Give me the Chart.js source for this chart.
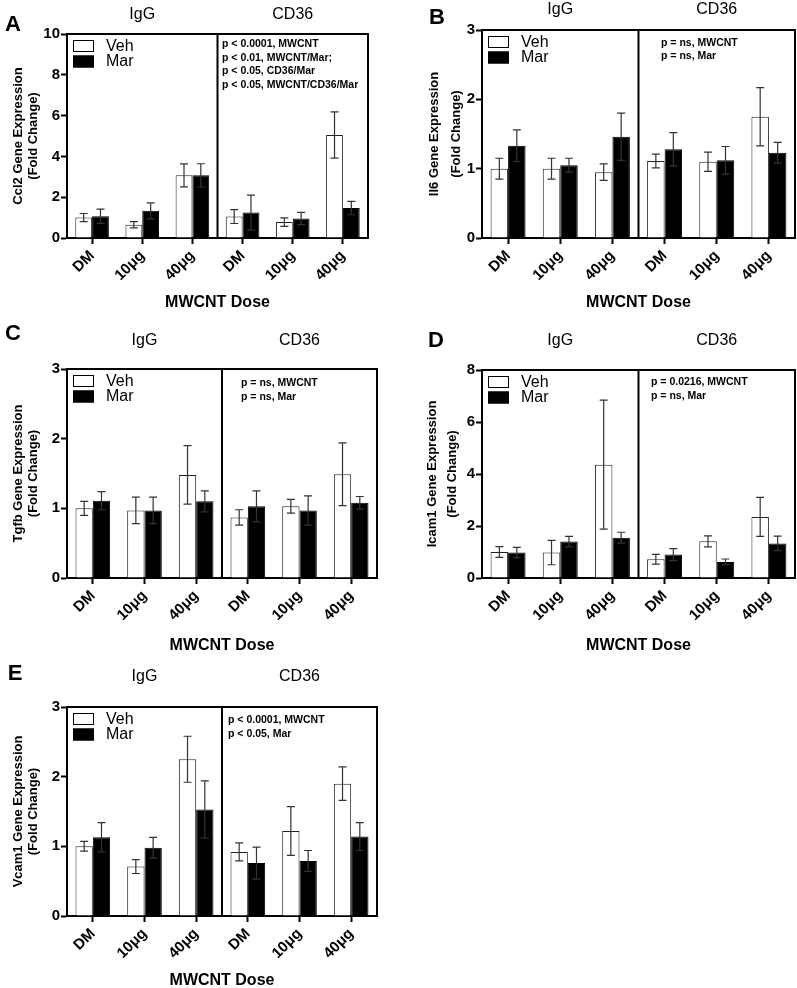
<!DOCTYPE html>
<html>
<head>
<meta charset="utf-8">
<script src="https://cdn.jsdelivr.net/npm/chart.js@4.4.1/dist/chart.umd.min.js"></script>
<style>
html, body { margin: 0; padding: 0; background: #fff; overflow: hidden; }
body { width: 797px; height: 988px; position: relative; }
canvas { position: absolute; }
</style>
</head>
<body>
<canvas id="panelA"></canvas>
<canvas id="panelB"></canvas>
<canvas id="panelC"></canvas>
<canvas id="panelD"></canvas>
<canvas id="panelE"></canvas>
<script>
// x categories (IgG half, then CD36 half)
var doses = ['DM', '10μg', '40μg', 'DM', '10μg', '40μg'];
var groups = ['IgG', 'CD36'];
var seriesNames = ['Veh', 'Mar'];

// Ccl2
var ccl2Veh = [1.0, 0.65, 3.07, 1.05, 0.78, 5.05];
var ccl2VehErr = [0.2, 0.15, 0.56, 0.34, 0.21, 1.13];
var ccl2Mar = [1.07, 1.33, 3.07, 1.25, 0.96, 1.47];
var ccl2MarErr = [0.35, 0.39, 0.57, 0.85, 0.3, 0.33];
var ccl2Stats = ['p < 0.0001, MWCNT', 'p < 0.01, MWCNT/Mar;', 'p < 0.05, CD36/Mar', 'p < 0.05, MWCNT/CD36/Mar'];

// Il6
var il6Veh = [1.0, 1.0, 0.95, 1.11, 1.1, 1.75];
var il6VehErr = [0.15, 0.15, 0.12, 0.1, 0.14, 0.42];
var il6Mar = [1.33, 1.05, 1.46, 1.28, 1.12, 1.23];
var il6MarErr = [0.23, 0.1, 0.34, 0.24, 0.2, 0.15];
var il6Stats = ['p = ns, MWCNT', 'p = ns, Mar'];

// Tgfb
var tgfbVeh = [1.0, 0.97, 1.48, 0.87, 1.03, 1.49];
var tgfbVehErr = [0.1, 0.19, 0.42, 0.11, 0.1, 0.45];
var tgfbMar = [1.11, 0.97, 1.1, 1.03, 0.97, 1.08];
var tgfbMarErr = [0.13, 0.19, 0.15, 0.22, 0.21, 0.09];
var tgfbStats = ['p = ns, MWCNT', 'p = ns, Mar'];

// Icam1
var icam1Veh = [1.0, 0.98, 4.36, 0.72, 1.41, 2.35];
var icam1VehErr = [0.21, 0.47, 2.48, 0.19, 0.21, 0.75];
var icam1Mar = [0.98, 1.4, 1.55, 0.9, 0.62, 1.33];
var icam1MarErr = [0.2, 0.2, 0.21, 0.23, 0.11, 0.28];
var icam1Stats = ['p = 0.0216, MWCNT', 'p = ns, Mar'];

// Vcam1
var vcam1Veh = [1.0, 0.71, 2.25, 0.92, 1.22, 1.9];
var vcam1VehErr = [0.07, 0.1, 0.33, 0.13, 0.35, 0.24];
var vcam1Mar = [1.13, 0.98, 1.53, 0.76, 0.79, 1.14];
var vcam1MarErr = [0.21, 0.15, 0.41, 0.23, 0.15, 0.2];
var vcam1Stats = ['p < 0.0001, MWCNT', 'p < 0.05, Mar'];

var FONT = "'Liberation Sans', Arial, Helvetica, sans-serif";

// layout of each panel on the page
var panels = [
    { id: 'panelA', letter: 'A', gene: 'Ccl2', veh: ccl2Veh, vehErr: ccl2VehErr, mar: ccl2Mar, marErr: ccl2MarErr, stats: ccl2Stats,
      yMax: 10, yStep: 2, box: [0, 0, 400, 312], area: [67, 34, 368, 238], yTitleLh: 15, yTitlePad: 10.5,
      letterPos: [13, 25], titleY: 19, statsPos: [222, 47], statsLh: 13.5 },
    { id: 'panelB', letter: 'B', gene: 'Il6', veh: il6Veh, vehErr: il6VehErr, mar: il6Mar, marErr: il6MarErr, stats: il6Stats,
      yMax: 3, yStep: 1, box: [400, 0, 397, 312], area: [482, 30, 795, 238], yTitleLh: 22, yTitlePad: 23,
      letterPos: [437, 18], titleY: 14, statsPos: [661, 46], statsLh: 13 },
    { id: 'panelC', letter: 'C', gene: 'Tgfb', veh: tgfbVeh, vehErr: tgfbVehErr, mar: tgfbMar, marErr: tgfbMarErr, stats: tgfbStats,
      yMax: 3, yStep: 1, box: [0, 320, 400, 335], area: [67, 369, 377, 578], yTitleLh: 15, yTitlePad: 10.5,
      letterPos: [13, 334], titleY: 345, statsPos: [241, 386], statsLh: 13.5 },
    { id: 'panelD', letter: 'D', gene: 'Icam1', veh: icam1Veh, vehErr: icam1VehErr, mar: icam1Mar, marErr: icam1MarErr, stats: icam1Stats,
      yMax: 8, yStep: 2, box: [400, 320, 397, 335], area: [482, 370, 795, 578], yTitleLh: 20, yTitlePad: 22.5,
      letterPos: [436, 341], titleY: 345, statsPos: [651, 385], statsLh: 14 },
    { id: 'panelE', letter: 'E', gene: 'Vcam1', veh: vcam1Veh, vehErr: vcam1VehErr, mar: vcam1Mar, marErr: vcam1MarErr, stats: vcam1Stats,
      yMax: 3, yStep: 1, box: [0, 650, 400, 340], area: [67, 707, 377, 916], yTitleLh: 15, yTitlePad: 10.5,
      letterPos: [15, 674], titleY: 681, statsPos: [228, 723], statsLh: 13.5 }
];

function makeDecor(p) {
    var ox = p.box[0], oy = p.box[1];
    return {
        id: 'decor' + p.letter,
        afterDatasetsDraw: function (chart) {
            var ctx = chart.ctx;
            var area = chart.chartArea;
            var xs = chart.scales.x, ys = chart.scales.y;

            // error bars
            ctx.save();
            ctx.strokeStyle = '#333';
            ctx.lineWidth = 1.2;
            chart.data.datasets.forEach(function (ds, di) {
                var meta = chart.getDatasetMeta(di);
                meta.data.forEach(function (bar, i) {
                    var m = ds.data[i], e = ds.errors[i];
                    var yTop = ys.getPixelForValue(m + e);
                    var yBot = ys.getPixelForValue(m - e);
                    ctx.beginPath();
                    ctx.moveTo(bar.x, yTop);
                    ctx.lineTo(bar.x, yBot);
                    ctx.moveTo(bar.x - 4, yTop);
                    ctx.lineTo(bar.x + 4, yTop);
                    ctx.moveTo(bar.x - 4, yBot);
                    ctx.lineTo(bar.x + 4, yBot);
                    ctx.stroke();
                });
            });

            // frame + divider between IgG and CD36
            var mid = (xs.getPixelForValue(2) + xs.getPixelForValue(3)) / 2;
            ctx.strokeStyle = '#000';
            ctx.lineWidth = 2;
            ctx.beginPath();
            ctx.moveTo(area.left - 1, area.top);
            ctx.lineTo(area.right, area.top);
            ctx.lineTo(area.right, area.bottom + 1);
            ctx.moveTo(mid, area.top);
            ctx.lineTo(mid, area.bottom);
            ctx.stroke();

            ctx.fillStyle = '#000';
            // group titles
            ctx.font = '16px ' + FONT;
            ctx.textAlign = 'center';
            ctx.textBaseline = 'alphabetic';
            ctx.fillText(groups[0], (area.left + mid) / 2, p.titleY - oy);
            ctx.fillText(groups[1], (mid + area.right) / 2, p.titleY - oy);

            // panel letter
            ctx.font = 'bold 22px ' + FONT;
            ctx.textBaseline = 'middle';
            ctx.fillText(p.letter, p.letterPos[0] - ox, p.letterPos[1] - oy);

            // legend
            var lx = area.left + 6, ly = area.top + 6;
            ctx.font = '16px ' + FONT;
            ctx.textAlign = 'left';
            chart.data.datasets.forEach(function (ds, di) {
                var by = ly + di * 15.5;
                ctx.fillStyle = ds.backgroundColor;
                ctx.fillRect(lx, by, 21, 12);
                ctx.strokeStyle = '#000';
                ctx.lineWidth = 1;
                ctx.strokeRect(lx + 0.5, by + 0.5, 20, 11);
                ctx.fillStyle = '#000';
                ctx.fillText(ds.label, lx + 33, by + 6.5);
            });

            // stats
            ctx.font = 'bold 10.5px ' + FONT;
            ctx.textBaseline = 'alphabetic';
            p.stats.forEach(function (line, i) {
                ctx.fillText(line, p.statsPos[0] - ox, p.statsPos[1] - oy + i * p.statsLh);
            });
            ctx.restore();
        }
    };
}

panels.forEach(function (p) {
    var canvas = document.getElementById(p.id);
    canvas.width = p.box[2];
    canvas.height = p.box[3];
    canvas.style.left = p.box[0] + 'px';
    canvas.style.top = p.box[1] + 'px';

    var yWidth = p.area[0] - p.box[0];
    var xHeight = p.box[1] + p.box[3] - p.area[3];

    new Chart(canvas.getContext('2d'), {
        type: 'bar',
        data: {
            labels: doses,
            datasets: [{
                label: seriesNames[0],
                data: p.veh,
                errors: p.vehErr,
                backgroundColor: '#ffffff',
                borderColor: '#222',
                borderWidth: 1,
                categoryPercentage: 0.67,
                barPercentage: 1.0
            }, {
                label: seriesNames[1],
                data: p.mar,
                errors: p.marErr,
                backgroundColor: '#000000',
                borderColor: '#000',
                borderWidth: 1,
                categoryPercentage: 0.67,
                barPercentage: 1.0
            }]
        },
        options: {
            responsive: false,
            animation: false,
            devicePixelRatio: 1,
            layout: {
                padding: { left: 0, top: p.area[1] - p.box[1], right: p.box[0] + p.box[2] - p.area[2], bottom: 0 }
            },
            plugins: {
                legend: { display: false },
                tooltip: { enabled: false }
            },
            scales: {
                x: {
                    grid: { offset: false, drawOnChartArea: false, tickLength: 6, tickWidth: 2, tickColor: '#000' },
                    border: { color: '#000', width: 2 },
                    ticks: {
                        color: '#000',
                        font: { family: FONT, size: 15, weight: 'bold' },
                        minRotation: 45,
                        maxRotation: 45,
                        autoSkip: false,
                        padding: 3
                    },
                    title: {
                        display: true,
                        text: 'MWCNT Dose',
                        color: '#000',
                        font: { family: FONT, size: 16, weight: 'bold' },
                        padding: 0
                    },
                    afterFit: function (scale) { scale.height = xHeight; }
                },
                y: {
                    min: 0,
                    max: p.yMax,
                    grid: { drawOnChartArea: false, tickLength: 6, tickWidth: 2, tickColor: '#000' },
                    border: { color: '#000', width: 2 },
                    ticks: {
                        stepSize: p.yStep,
                        color: '#000',
                        font: { family: FONT, size: 15, weight: 'bold' },
                        padding: 1
                    },
                    title: {
                        display: true,
                        text: [p.gene + ' Gene Expression', '(Fold Change)'],
                        color: '#000',
                        font: { family: FONT, size: 13, weight: 'bold', lineHeight: p.yTitleLh + 'px' },
                        padding: { top: p.yTitlePad, bottom: 0 }
                    },
                    afterFit: function (scale) { scale.width = yWidth; }
                }
            }
        },
        plugins: [makeDecor(p)]
    });
});
</script>
</body>
</html>
